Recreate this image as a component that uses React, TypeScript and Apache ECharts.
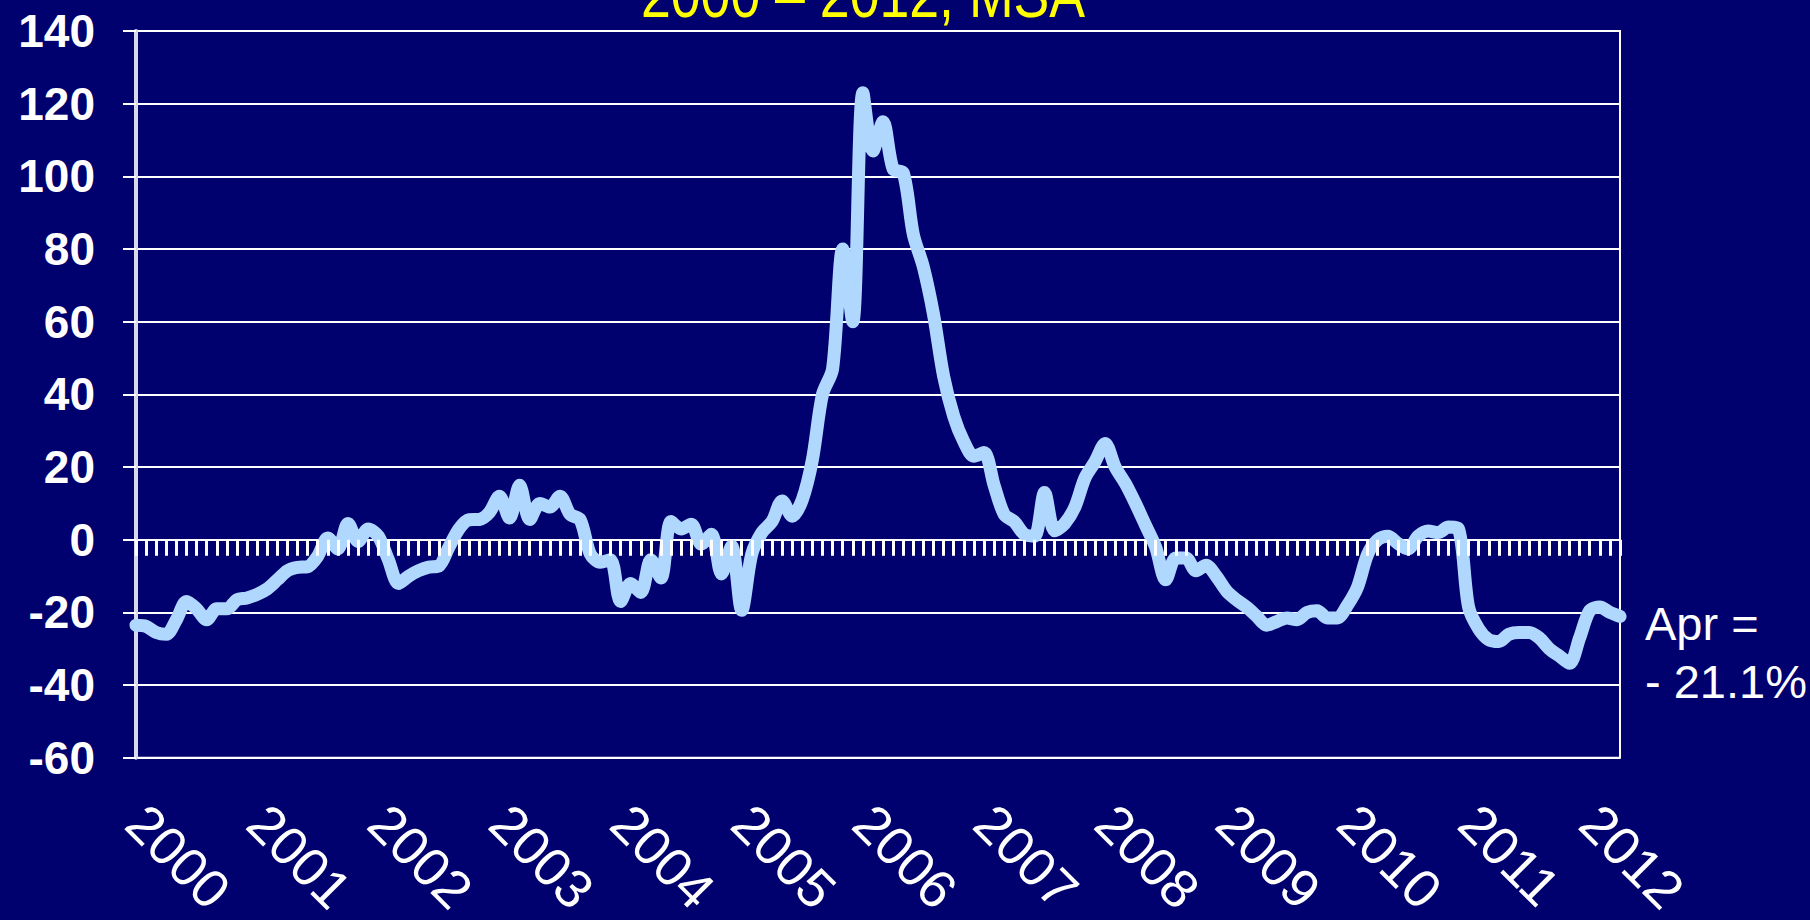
import React, { useEffect, useRef } from 'react';
import * as echarts from 'echarts';

// ---- data ----
const years = ['2000', '2001', '2002', '2003', '2004', '2005', '2006', '2007', '2008', '2009', '2010', '2011', '2012'];
const monthNums = ['01', '02', '03', '04', '05', '06', '07', '08', '09', '10', '11', '12'];
const lastYearMonths = 4; // data runs through Apr 2012

const categories: string[] = [];
years.forEach((y, yi) => {
  monthNums.forEach((m, mi) => {
    if (yi < years.length - 1 || mi < lastYearMonths) categories.push(`${y}-${m}`);
  });
});

// year-over-year % change, monthly, Jan 2000 - Apr 2012
const hpiChange = [
  -23.5, -23.8, -25.5, -26, -22, -17, -19, -22, -19, -19, -16.5, -16,
  -15, -13.5, -11, -8.5, -7.6, -7.4, -4.5, 0.5, -2.5, 4.5, -0.5, 3,
  1, -5.5, -12, -10, -8.5, -7.5, -7.2, -2, 3, 5.5, 5.6, 7.5,
  12, 6, 15, 5.6, 10, 9, 12, 7, 5.5, -3.9, -6.2, -5.5,
  -17, -12, -14.5, -5.5, -10.5, 5, 3, 4.3, -1.2, 1.5, -9.4, -1.7,
  -19.4, -3.9, 2, 5, 10.7, 6.5, 11, 22, 40, 47, 80, 60,
  123, 107, 115, 102, 101, 84, 75, 62, 45, 34, 27, 23,
  24, 15, 7, 5, 1.5, 1, 13, 2.5, 4.5, 9, 17, 21.5,
  26.5, 20, 15.5, 10, 4, -2, -11, -5, -5, -8.5, -7, -10,
  -14, -16.5, -18.5, -21, -23.5, -22.5, -21.5, -22, -20, -19.5, -21.5, -21.5,
  -18, -13, -4, 0, 1, -1, -2.5, 1, 2.4, 2, 3.5, 3,
  -18.5, -24.5, -27.5, -28, -26, -25.5, -25.5, -27, -30, -32, -34, -27,
  -19.5, -18.5, -20, -21.1,
];

const yMin = -60;
const yMax = 140;
const yStep = 20;

const titleText = '2000 \u2013 2012, MSA';
const noteText = 'Apr =\n- 21.1%';

export default function App() {
  const ref = useRef<HTMLDivElement>(null);

  useEffect(() => {
    if (!ref.current) return;
    const chart = echarts.init(ref.current, undefined, { renderer: 'svg' });
    const font = 'Liberation Sans';
    chart.setOption({
      animation: false,
      backgroundColor: '#00006E',
      grid: {
        left: 136,
        right: 190,
        top: 31,
        bottom: 156,
        show: true,
        borderColor: '#ffffff',
        borderWidth: 2,
        backgroundColor: 'transparent',
      },
      xAxis: [
        {
          type: 'category',
          data: categories,
          boundaryGap: false,
          position: 'bottom',
          z: 5,
          axisLine: { show: true, onZero: true, lineStyle: { color: '#ffffff', width: 2, opacity: 0 } },
          axisTick: { show: true, interval: 0, length: 16, lineStyle: { color: '#ffffff', width: 3 } },
          axisLabel: { show: false },
          splitLine: { show: false },
        },
        {
          type: 'category',
          data: categories,
          boundaryGap: false,
          position: 'bottom',
          axisLine: { show: false, onZero: false },
          axisTick: { show: false },
          splitLine: { show: false },
          axisLabel: {
            interval: (i: number) => i % 12 === 0,
            rotate: -45,
            margin: 56,
            color: '#ffffff',
            fontSize: 54,
            fontFamily: font,
            formatter: (v: string) => v.slice(0, 4),
          },
        },
      ],
      yAxis: {
        type: 'value',
        min: yMin,
        max: yMax,
        interval: yStep,
        axisLine: { show: true, lineStyle: { color: '#D8D8E8', width: 4 } },
        axisTick: { show: true, length: 13, lineStyle: { color: '#ffffff', width: 2 } },
        splitLine: { show: true, lineStyle: { color: '#ffffff', width: 2 } },
        axisLabel: {
          color: '#ffffff',
          fontSize: 46,
          fontWeight: 'bold',
          fontFamily: font,
          margin: 41,
        },
      },
      series: [
        {
          type: 'line',
          data: hpiChange,
          xAxisIndex: 0,
          symbol: 'none',
          smooth: 0.3,
          z: 3,
          lineStyle: { color: '#B0D8FF', width: 13, join: 'round', cap: 'round' },
        },
      ],
      graphic: [
        {
          type: 'text',
          x: 863,
          y: -5,
          scaleX: 0.825,
          style: {
            text: titleText,
            fill: '#FFFF00',
            fontSize: 65,
            fontFamily: font,
            align: 'center',
            verticalAlign: 'middle',
          },
        },
        {
          type: 'text',
          x: 1645,
          y: 594,
          style: {
            text: noteText,
            fill: '#ffffff',
            fontSize: 47,
            fontFamily: font,
            lineHeight: 58,
            align: 'left',
            verticalAlign: 'top',
          },
        },
      ],
    });
    return () => chart.dispose();
  }, []);

  return (
    <div
      ref={ref}
      style={{ position: 'fixed', left: 0, top: 0, width: 1810, height: 920 }}
    />
  );
}
